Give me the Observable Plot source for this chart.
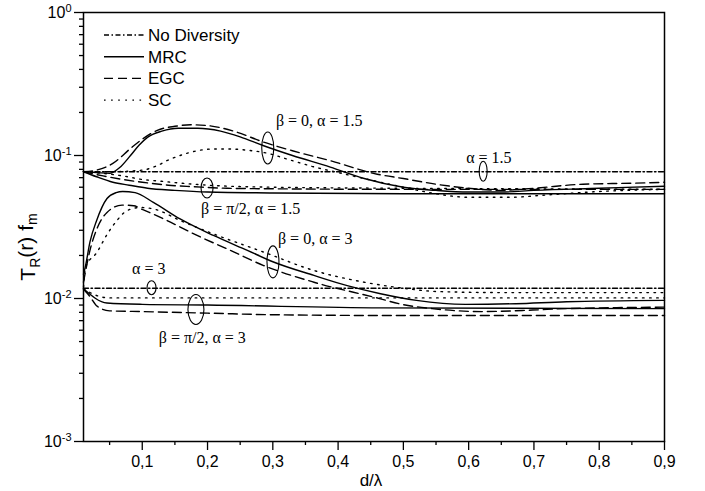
<!DOCTYPE html>
<html><head><meta charset="utf-8">
<script src="https://cdn.jsdelivr.net/npm/d3@7"></script>
<script src="https://cdn.jsdelivr.net/npm/@observablehq/plot@0.6"></script>
<style>body{margin:0;background:#fff} svg{display:block}</style>
</head><body><div id="chart"></div>
<script>
// ---- tick definitions ----
const xTicks = [0.1, 0.2, 0.3, 0.4, 0.5, 0.6, 0.7, 0.8, 0.9];
const xTickLabels = ["0,1", "0,2", "0,3", "0,4", "0,5", "0,6", "0,7", "0,8", "0,9"];
const xMinorTicks = [0.05, 0.15, 0.25, 0.35, 0.45, 0.55, 0.65, 0.75, 0.85];
const yTicks = [1, 0.1, 0.01, 0.001];
const yTickLabels = ["10^0", "10^-1", "10^-2", "10^-3"];
const yMinorMultipliers = [2, 3, 4, 5, 6, 7, 8, 9];

// ---- legend ----
const legendNames = ["No Diversity", "MRC", "EGC", "SC"];

// ---- data: alpha = 1.5 ----
const x_nd_a15 = [0.01, 0.9];
const y_nd_a15 = [0.077, 0.077];

const x_mrc_b0_a15 = [0.01,0.03,0.05,0.065,0.082,0.095,0.108,0.13,0.155,0.185,0.22,0.25,0.286,0.33,0.388,0.44,0.5,0.55,0.6,0.65,0.7,0.8,0.9];
const y_mrc_b0_a15 = [0.077,0.076,0.075,0.082,0.1,0.118,0.134,0.148,0.155,0.155,0.148,0.135,0.117,0.1,0.083,0.069,0.06,0.057,0.0555,0.0555,0.057,0.059,0.061];

const x_egc_b0_a15 = [0.01,0.03,0.055,0.082,0.1,0.123,0.15,0.174,0.2,0.24,0.286,0.33,0.388,0.46,0.5,0.55,0.6,0.65,0.7,0.775,0.85,0.9];
const y_egc_b0_a15 = [0.077,0.079,0.088,0.112,0.13,0.15,0.16,0.164,0.162,0.148,0.124,0.108,0.092,0.074,0.069,0.063,0.059,0.057,0.059,0.063,0.064,0.065];

const x_sc_b0_a15 = [0.01,0.05,0.1,0.123,0.14,0.158,0.184,0.21,0.235,0.26,0.286,0.33,0.36,0.4,0.44,0.5,0.55,0.6,0.66,0.72,0.8,0.9];
const y_sc_b0_a15 = [0.077,0.077,0.079,0.085,0.093,0.1,0.108,0.111,0.111,0.109,0.105,0.092,0.084,0.076,0.069,0.06,0.054,0.051,0.051,0.053,0.056,0.058];

const x_mrc_b90_a15 = [0.01,0.03,0.055,0.08,0.108,0.15,0.2,0.3,0.5,0.7,0.9];
const y_mrc_b90_a15 = [0.077,0.071,0.065,0.062,0.059,0.057,0.0555,0.0547,0.054,0.054,0.054];

const x_egc_b90_a15 = [0.01,0.04,0.07,0.1,0.14,0.18,0.23,0.3,0.5,0.7,0.9];
const y_egc_b90_a15 = [0.077,0.072,0.068,0.065,0.062,0.0605,0.059,0.0585,0.058,0.058,0.058];

const x_sc_b90_a15 = [0.01,0.04,0.07,0.1,0.13,0.16,0.2,0.3,0.5,0.7,0.9];
const y_sc_b90_a15 = [0.077,0.075,0.072,0.068,0.066,0.064,0.062,0.06,0.059,0.0585,0.058];

// ---- data: alpha = 3 ----
const x_nd_a3 = [0.01, 0.9];
const y_nd_a3 = [0.0118, 0.0118];

const x_mrc_b0_a3 = [0.01,0.0126,0.02,0.03,0.046,0.06,0.07,0.089,0.117,0.158,0.209,0.261,0.301,0.363,0.414,0.465,0.52,0.595,0.672,0.75,0.9];
const y_mrc_b0_a3 = [0.0148,0.0165,0.025,0.035,0.05,0.055,0.056,0.055,0.047,0.036,0.0276,0.0217,0.018,0.0145,0.0123,0.0108,0.0097,0.0091,0.0092,0.0095,0.0097];

const x_egc_b0_a3 = [0.01,0.02,0.0305,0.046,0.069,0.087,0.1,0.133,0.184,0.235,0.286,0.363,0.465,0.493,0.544,0.621,0.698,0.749,0.9];
const y_egc_b0_a3 = [0.013,0.0218,0.0307,0.04,0.045,0.0445,0.042,0.036,0.0276,0.0217,0.017,0.013,0.00995,0.0092,0.0085,0.0081,0.0083,0.0085,0.0087];

const x_sc_b0_a3 = [0.01,0.013,0.0305,0.046,0.061,0.076,0.097,0.12,0.158,0.209,0.286,0.363,0.44,0.5,0.55,0.65,0.9];
const y_sc_b0_a3 = [0.012,0.0165,0.021,0.028,0.035,0.041,0.0433,0.042,0.0351,0.0283,0.0211,0.0157,0.013,0.0118,0.0112,0.011,0.011];

const x_mrc_b90_a3 = [0.01,0.046,0.1,0.2,0.465,0.9];
const y_mrc_b90_a3 = [0.0117,0.0093,0.0091,0.009,0.0086,0.0085];

const x_egc_b90_a3 = [0.01,0.02,0.03,0.05,0.1,0.2,0.3,0.5,0.9];
const y_egc_b90_a3 = [0.0116,0.0103,0.0089,0.0082,0.0081,0.0079,0.0077,0.0076,0.0076];

const x_sc_b90_a3 = [0.01,0.03,0.05,0.1,0.5,0.9];
const y_sc_b90_a3 = [0.0117,0.0105,0.0101,0.0101,0.0101,0.0101];

// ---- annotations ----
const annText = ["β = 0, α = 1.5", "α = 1.5", "β = π/2, α = 1.5", "β = 0, α = 3", "α = 3", "β = π/2, α = 3"];
const annX = [0.371, 0.631, 0.266, 0.365, 0.11, 0.192];
const annY = [0.176, 0.0968, 0.0426, 0.0263, 0.0162, 0.00533];
const ellX = [0.293, 0.623, 0.2, 0.301, 0.115, 0.183];
const ellY = [0.112, 0.077, 0.0588, 0.0179, 0.0118, 0.00831];
const ellRx = [6, 4, 6, 6, 4.5, 8];
const ellRy = [16, 10, 10, 16, 7, 15];

// ---- build tables ----
const seriesDefs = [
  ["No Diversity", x_nd_a15, y_nd_a15], ["No Diversity", x_nd_a3, y_nd_a3],
  ["MRC", x_mrc_b0_a15, y_mrc_b0_a15], ["MRC", x_mrc_b90_a15, y_mrc_b90_a15],
  ["MRC", x_mrc_b0_a3, y_mrc_b0_a3], ["MRC", x_mrc_b90_a3, y_mrc_b90_a3],
  ["EGC", x_egc_b0_a15, y_egc_b0_a15], ["EGC", x_egc_b90_a15, y_egc_b90_a15],
  ["EGC", x_egc_b0_a3, y_egc_b0_a3], ["EGC", x_egc_b90_a3, y_egc_b90_a3],
  ["SC", x_sc_b0_a15, y_sc_b0_a15], ["SC", x_sc_b90_a15, y_sc_b90_a15],
  ["SC", x_sc_b0_a3, y_sc_b0_a3], ["SC", x_sc_b90_a3, y_sc_b90_a3]
];
const rows = [];
seriesDefs.forEach(([type, xs, ys], i) => xs.forEach((x, j) => rows.push({id: i, type, x, y: ys[j]})));

const dashes = {"No Diversity": "5,2.5,1.5,2.5", "MRC": null, "EGC": "9,5", "SC": "1.6,5.5"};
const yMinorTicks = [];
yTicks.slice(1).forEach(t => yMinorMultipliers.forEach(m => yMinorTicks.push(t * m)));
const ann = annText.map((t, i) => ({text: t, x: annX[i], y: annY[i]}));

const lineMarks = legendNames.map(type => Plot.line(rows.filter(r => r.type === type), {
  x: "x", y: "y", z: "id", stroke: "black", strokeWidth: 1.4,
  strokeDasharray: dashes[type], curve: "monotone-x"
}));

const plot = Plot.plot({
  width: 705, height: 491,
  marginLeft: 83, marginRight: 41, marginTop: 12, marginBottom: 50,
  style: {fontFamily: "'Liberation Sans', Arial, sans-serif", fontSize: "16px", color: "black", background: "white", overflow: "visible"},
  x: {domain: [0.01, 0.9], label: null},
  y: {type: "log", domain: [0.001, 1], label: null},
  marks: [
    ...lineMarks,
    Plot.frame({stroke: "black", strokeWidth: 1.5}),
    Plot.axisX(xMinorTicks, {tickSize: 4, tickFormat: () => "", strokeWidth: 1.3, label: null}),
    Plot.axisX(xTicks, {tickSize: 9, tickPadding: 5, strokeWidth: 1.3, label: null,
      tickFormat: d => xTickLabels[xTicks.findIndex(t => Math.abs(t - d) < 1e-9)]}),
    Plot.axisY(yMinorTicks, {tickSize: 4, tickFormat: () => "", strokeWidth: 1.3, label: null}),
    Plot.axisY(yTicks, {tickSize: 9, tickPadding: 3, strokeWidth: 1.3, label: null,
      tickFormat: d => yTickLabels[yTicks.findIndex(t => Math.abs(t - d) < 1e-12)]}),
    Plot.text(ann, {x: "x", y: "y", text: "text", fontFamily: "'Liberation Serif', 'Times New Roman', serif", fontSize: 16, fill: "black"})
  ]
});
document.getElementById("chart").appendChild(plot);

const svg = d3.select(plot);
// superscript exponents on y tick labels
svg.selectAll('g[aria-label="y-axis tick label"] text').each(function() {
  const s = d3.select(this).text();
  if (s.includes("^")) {
    const [base, exp] = s.split("^");
    const t = d3.select(this);
    t.text(base);
    t.append("tspan").attr("dy", "-0.55em").attr("font-size", "11px").text(exp);
  }
});

const sx = plot.scale("x"), sy = plot.scale("y");
// ellipses
const eg = svg.append("g").attr("fill", "none").attr("stroke", "black").attr("stroke-width", 1.1);
ellX.forEach((x, i) => {
  eg.append("ellipse").attr("cx", sx.apply(x)).attr("cy", sy.apply(ellY[i])).attr("rx", ellRx[i]).attr("ry", ellRy[i]);
});

// legend
const lg = svg.append("g").attr("text-anchor", "start");
legendNames.forEach((name, i) => {
  const yy = 35 + i * 21.7;
  lg.append("line").attr("x1", 104).attr("x2", 144).attr("y1", yy).attr("y2", yy)
    .attr("stroke", "black").attr("stroke-width", 1.4).attr("stroke-dasharray", dashes[name]);
  lg.append("text").attr("x", 148).attr("y", yy).attr("dy", "0.35em").attr("text-anchor", "start")
    .attr("font-size", 17).attr("fill", "black").text(name);
});

// axis titles
const yl = svg.append("text").attr("transform", "translate(35,247) rotate(-90)")
  .attr("text-anchor", "middle").attr("font-size", 21).attr("fill", "black");
yl.append("tspan").text("T");
yl.append("tspan").attr("font-size", 14).attr("dy", "0.35em").text("R");
yl.append("tspan").attr("dy", "-0.35em").text("(r) f");
yl.append("tspan").attr("font-size", 14).attr("dy", "0.35em").text("m");
svg.append("text").attr("x", 371).attr("y", 486).attr("text-anchor", "middle")
  .attr("font-size", 17).attr("fill", "black").text("d/λ");
</script>
</body></html>
